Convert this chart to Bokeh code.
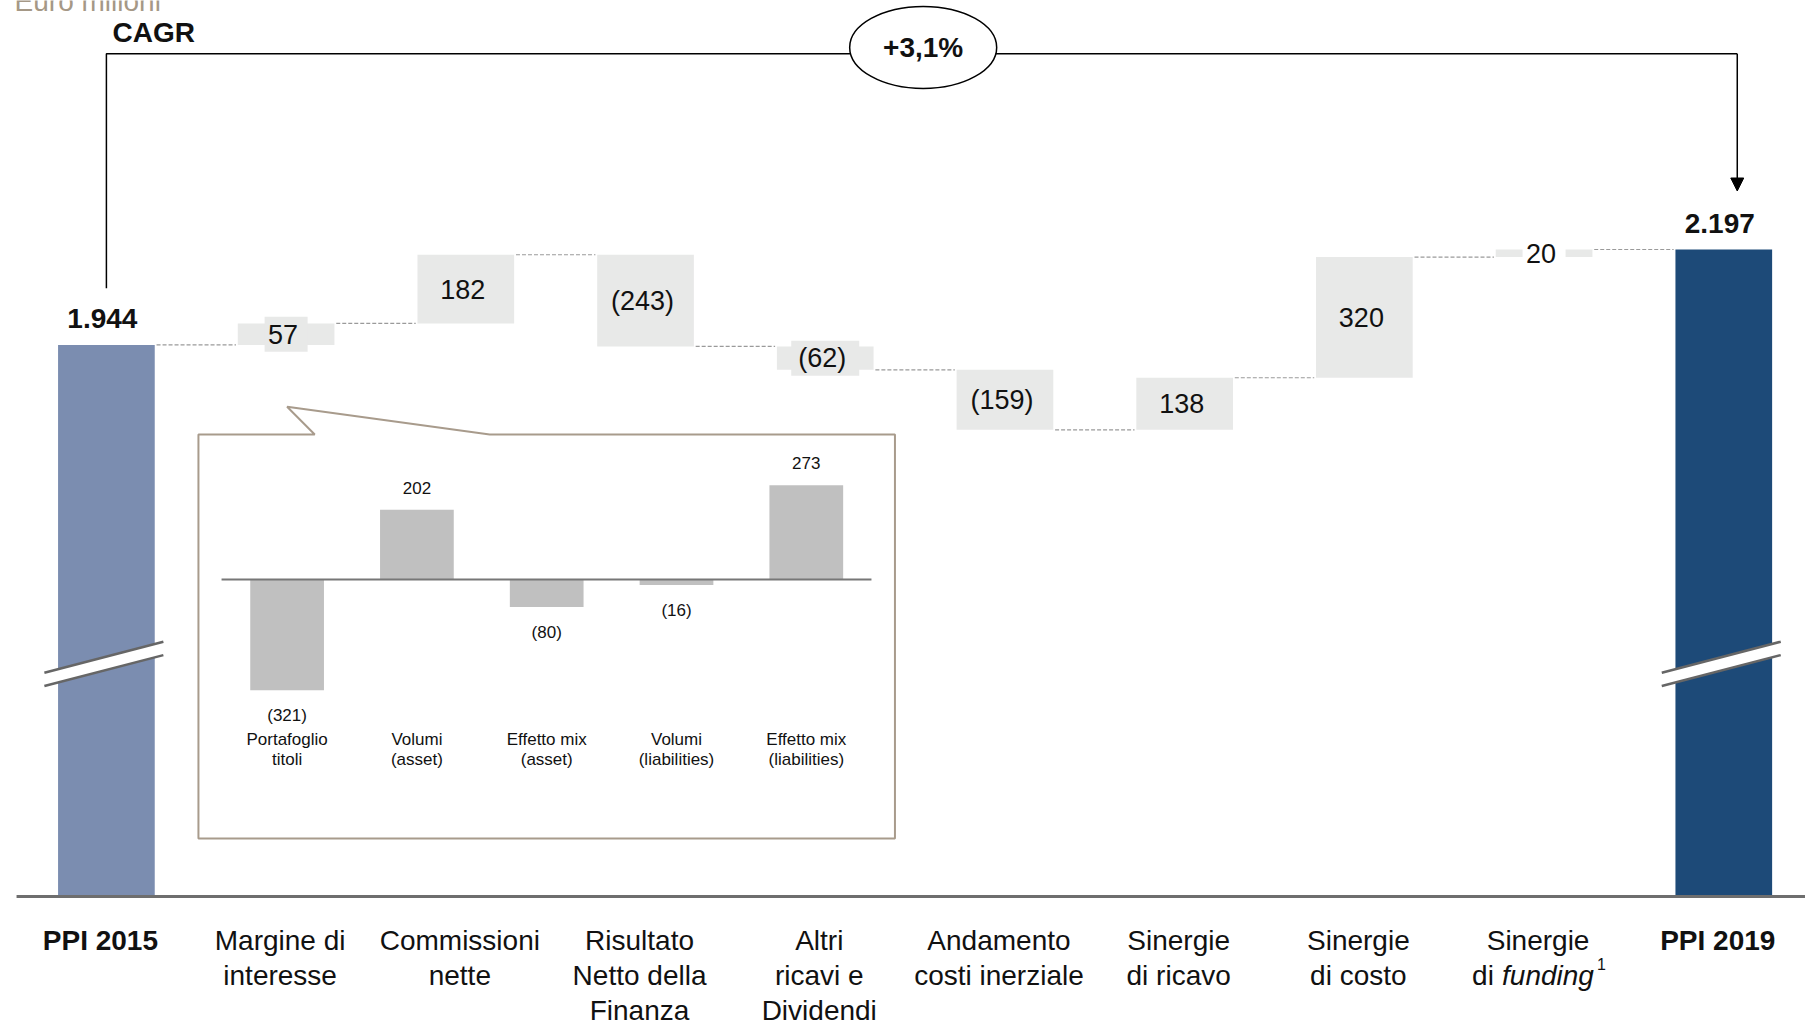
from bokeh.plotting import figure
from bokeh.models import Range1d, Arrow, NormalHead
from bokeh.core.properties import value
from bokeh.embed import file_html
from bokeh.resources import INLINE

# ---------------- data ----------------
category_lines = [
    ["PPI 2015"],
    ["Margine di", "interesse"],
    ["Commissioni", "nette"],
    ["Risultato", "Netto della", "Finanza"],
    ["Altri", "ricavi e", "Dividendi"],
    ["Andamento", "costi inerziale"],
    ["Sinergie", "di ricavo"],
    ["Sinergie", "di costo"],
    ["Sinergie", "di funding"],
    ["PPI 2019"],
]
start_value = 1944
end_value = 2197
start_label = "1.944"
end_label = "2.197"
deltas = [57, 182, -243, -62, -159, 138, 320, 20]
delta_labels = ["57", "182", "(243)", "(62)", "(159)", "138", "320", "20"]
cagr_label = "+3,1%"
unit_label = "Euro milioni"

inset_line1 = ["Portafoglio", "Volumi", "Effetto mix", "Volumi", "Effetto mix"]
inset_line2 = ["titoli", "(asset)", "(asset)", "(liabilities)", "(liabilities)"]
inset_values = [-321, 202, -80, -16, 273]
inset_labels = ["(321)", "202", "(80)", "(16)", "273"]

# ---------------- styling constants ----------------
FONT = value("Liberation Sans")
AXIS_BASE = 482.2          # value where the broken axis meets the baseline
BAR_W = 0.538
START_COL = "#7b8db0"
END_COL = "#1d4a78"
BOX_COL = "#e8e9e8"
INSET_BAR = "#c0c0c0"
INSET_BORDER = "#a89b8c"
X0, X1 = -0.5893, 9.4547

p = figure(width=1805, height=1023, x_range=Range1d(X0, X1),
           y_range=Range1d(145.6, 2856.9), output_backend="svg",
           toolbar_location=None, min_border=0,
           x_axis_type=None, y_axis_type=None)
p.grid.visible = False
p.outline_line_color = None
p.background_fill_color = "white"
p.extra_x_ranges = {"ix": Range1d(-2.208, 11.698)}
p.extra_y_ranges = {"iy": Range1d(-1286.9, 1678.3)}

n = len(category_lines)
xs = list(range(n))

# cumulative levels
levels = [start_value]
for d in deltas:
    levels.append(levels[-1] + d)

# total bars
p.vbar(x=[0], bottom=[AXIS_BASE], top=[start_value], width=BAR_W,
       fill_color=START_COL, line_color=None)
p.vbar(x=[n - 1], bottom=[AXIS_BASE], top=[end_value], width=BAR_W,
       fill_color=END_COL, line_color=None)

# floating delta bars
dx = xs[1:-1]
bots = [min(levels[i], levels[i + 1]) for i in range(len(deltas))]
tops = [max(levels[i], levels[i + 1]) for i in range(len(deltas))]
mids = [(b + t) / 2 for b, t in zip(bots, tops)]
p.vbar(x=dx, bottom=bots, top=tops, width=BAR_W, fill_color=BOX_COL, line_color=None)

# label backgrounds for thin bars
small_idx = [i for i, d in enumerate(deltas) if abs(d) < 100]
for i in small_idx:
    lbl = delta_labels[i]
    w = 12 + 15.5 * len(lbl) - (6 if "(" in lbl else 0)
    bg = BOX_COL if deltas[i] > 40 or deltas[i] < -40 else "white"
    p.rect(x=[dx[i]], y=[mids[i]], width=[w], height=[35], width_units="screen",
           height_units="screen", fill_color=bg, line_color=None)

# connectors
hw = BAR_W / 2
p.segment(x0=[x + hw + 0.01 for x in xs[:-1]], y0=levels,
          x1=[x + 1 - hw - 0.01 for x in xs[:-1]], y1=levels,
          line_color="#9a9a9a", line_width=1.2, line_dash="4 2")

# delta labels
p.text(x=dx, y=mids, text=delta_labels, text_font=FONT, text_font_size="27px",
       text_align="center", text_baseline="middle", text_color="#111111", x_offset=-3)

# total labels
p.text(x=[0, n - 1], y=[start_value, end_value], text=[start_label, end_label],
       text_font=FONT, text_font_size="28px", text_font_style="bold",
       text_align="center", text_baseline="middle", y_offset=-26, x_offset=-4,
       text_color="#111111")

# axis breaks
for c in [0, n - 1]:
    bx = [c - 0.345, c + 0.317, c + 0.317, c - 0.345]
    by = [1075.4, 1157.5, 1122.0, 1039.9]
    p.patch(bx, by, fill_color="white", line_color=None)
    p.line([c - 0.345, c + 0.317], [1075.4, 1157.5], line_color="#666666", line_width=2.5)
    p.line([c - 0.345, c + 0.317], [1039.9, 1122.0], line_color="#666666", line_width=2.5)

# baseline
p.segment(x0=[-0.5], y0=[AXIS_BASE], x1=[X1], y1=[AXIS_BASE],
          line_color="#6e6e6e", line_width=3)

# category labels
for i, lines in enumerate(category_lines):
    bold = i in (0, n - 1)
    for j, line in enumerate(lines):
        if i == 8 and j == 1:
            continue
        p.text(x=[i], y=[AXIS_BASE], text=[line], text_font=FONT,
               text_font_size="28px", text_font_style="bold" if bold else "normal",
               text_align="center", text_baseline="middle",
               x_offset=-6, y_offset=44 + 35 * j, text_color="#111111")
# "di funding^1"
p.text(x=[8], y=[AXIS_BASE], text=["di"], text_font=FONT, text_font_size="28px",
       text_align="left", text_baseline="middle", x_offset=-72, y_offset=79,
       text_color="#111111")
p.text(x=[8], y=[AXIS_BASE], text=["funding"], text_font=FONT, text_font_size="28px",
       text_font_style="italic", text_align="left", text_baseline="middle",
       x_offset=-42, y_offset=79, text_color="#111111")
p.text(x=[8], y=[AXIS_BASE], text=["1"], text_font=FONT, text_font_size="16px",
       text_align="left", text_baseline="middle", x_offset=53, y_offset=68,
       text_color="#111111")

# CAGR bracket
p.line([0, 0, 9.075], [2094, 2716, 2716], line_color="black", line_width=1.5)
p.add_layout(Arrow(end=NormalHead(size=13, fill_color="black", line_color="black"),
                   x_start=9.075, y_start=2716, x_end=9.075, y_end=2352,
                   line_color="black", line_width=1.5))
p.ellipse(x=[4.545], y=[2732.6], width=[147], height=[82], width_units="screen",
          height_units="screen", fill_color="white", line_color="black", line_width=1.5)
p.text(x=[4.545], y=[2732.6], text=[cagr_label], text_font=FONT, text_font_size="28px",
       text_font_style="bold", text_align="center", text_baseline="middle",
       text_color="#111111")
p.text(x=[0.034], y=[2772.4], text=["CAGR"], text_font=FONT, text_font_size="28px",
       text_font_style="bold", text_align="left", text_baseline="middle",
       text_color="#111111")
p.text(x=[-0.511], y=[2854.0], text=[unit_label], text_font=FONT, text_font_size="28px",
       text_align="left", text_baseline="alphabetic", text_color="#a59886")

# ---------------- inset ----------------
ix = list(range(len(inset_values)))
p.patch([-0.683, 0.213, 0.0, 1.561, 4.683, 4.683, -0.683],
        [420.3, 420.3, 500.6, 420.3, 420.3, -750.7, -750.7],
        fill_color="white", line_color=INSET_BORDER, line_width=2,
        x_range_name="ix", y_range_name="iy")
p.vbar(x=ix, bottom=[min(v, 0) for v in inset_values], top=[max(v, 0) for v in inset_values],
       width=0.568, fill_color=INSET_BAR, line_color=None,
       x_range_name="ix", y_range_name="iy")
p.segment(x0=[-0.505], y0=[0], x1=[4.502], y1=[0], line_color="#777777", line_width=2,
          x_range_name="ix", y_range_name="iy")
pos = [i for i, v in enumerate(inset_values) if v >= 0]
neg = [i for i, v in enumerate(inset_values) if v < 0]
p.text(x=pos, y=[inset_values[i] for i in pos], text=[inset_labels[i] for i in pos],
       text_font=FONT, text_font_size="17px", text_align="center",
       text_baseline="middle", y_offset=-22, text_color="#111111",
       x_range_name="ix", y_range_name="iy")
p.text(x=neg, y=[inset_values[i] for i in neg], text=[inset_labels[i] for i in neg],
       text_font=FONT, text_font_size="17px", text_align="center",
       text_baseline="middle", y_offset=25, text_color="#111111",
       x_range_name="ix", y_range_name="iy")
p.text(x=ix, y=[0] * len(ix), text=inset_line1, text_font=FONT, text_font_size="17px",
       text_align="center", text_baseline="middle", y_offset=160, text_color="#111111",
       x_range_name="ix", y_range_name="iy")
p.text(x=ix, y=[0] * len(ix), text=inset_line2, text_font=FONT, text_font_size="17px",
       text_align="center", text_baseline="middle", y_offset=180, text_color="#111111",
       x_range_name="ix", y_range_name="iy")

open("out.html", "w").write(file_html(p, INLINE))
